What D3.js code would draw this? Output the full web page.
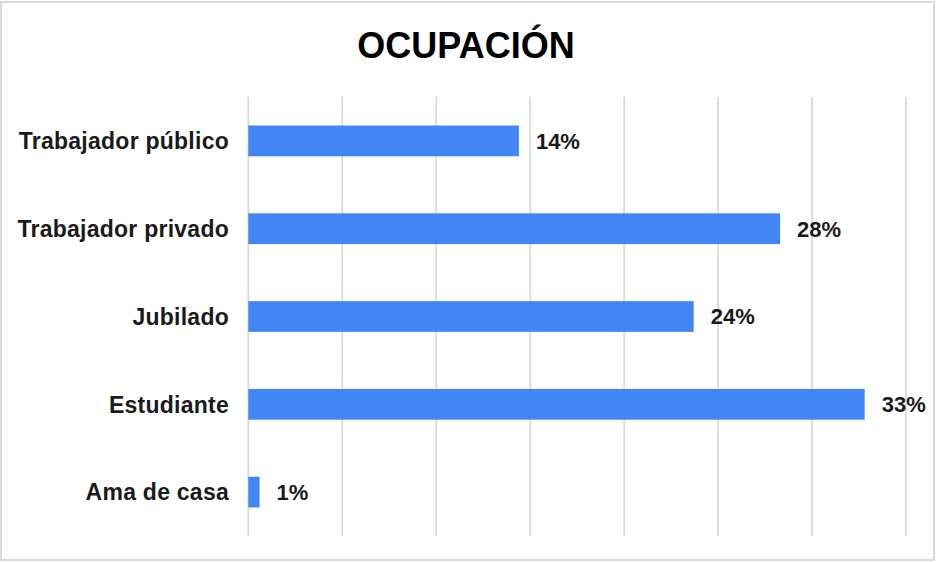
<!DOCTYPE html>
<html>
<head>
<meta charset="utf-8">
<script src="https://cdn.jsdelivr.net/npm/d3@7"></script>
<style>
  body { margin: 0; background: #fff; }
  text { font-family: "Liberation Sans", Arial, sans-serif; font-weight: bold; }
</style>
</head>
<body>
<div id="container"></div>
<script>
// data
var categories = ["Trabajador público", "Trabajador privado", "Jubilado", "Estudiante", "Ama de casa"];
var values = [0.144, 0.283, 0.237, 0.328, 0.006];
var tickValues = [0, 0.05, 0.10, 0.15, 0.20, 0.25, 0.30, 0.35];

var W = 936, H = 562;
var svg = d3.select("#container").append("svg")
	.attr("width", W)
	.attr("height", H)

// frame
svg.append("rect")
	.attr("x", 1).attr("y", 2)
	.attr("width", W - 3).attr("height", H - 4)
	.style("fill", "#fff")
	.style("stroke", "#dadada")
	.style("stroke-width", 2)

svg.append("text")
	.attr("x", 466)
	.attr("y", 58)
	.attr("text-anchor", "middle")
	.style("font-size", "36px")
	.style("fill", "#000")
	.text("OCUPACIÓN")

//define scales
var x = d3.scaleLinear()
	.domain([0, 0.35])
	.range([248.3, 906]);

var y = d3.scaleBand()
	.domain(categories)
	.range([97, 536])
	.paddingInner(0.65)
	.paddingOuter(0.325);

// gridlines
svg.append("g")
	.selectAll("line")
	.data(tickValues).enter()
	.append("line")
	.attr("x1", function(d) { return x(d); })
	.attr("x2", function(d) { return x(d); })
	.attr("y1", 97)
	.attr("y2", 536)
	.style("stroke", "#d6d6d6")
	.style("stroke-width", 1.6)

var data = categories.map(function(c, i) { return { cat: c, val: values[i] }; });
var fmt = d3.format(".0%");

svg.append("g")
	.selectAll("rect")
	.data(data).enter()
	.append("rect")
	.attr("x", x(0))
	.attr("y", function(d) { return y(d.cat); })
	.attr("width", function(d) { return x(d.val) - x(0); })
	.attr("height", y.bandwidth())
	.style("fill", "#4285f4")

// category labels
svg.append("g")
	.selectAll("text")
	.data(data).enter()
	.append("text")
	.attr("x", 229)
	.attr("y", function(d) { return y(d.cat) + y.bandwidth() / 2; })
	.attr("dy", "0.36em")
	.attr("text-anchor", "end")
	.style("font-size", "23px")
	.style("letter-spacing", "0.25px")
	.style("fill", "#1a1a1a")
	.text(function(d) { return d.cat; })

// value labels
svg.append("g")
	.selectAll("text")
	.data(data).enter()
	.append("text")
	.attr("x", function(d) { return x(d.val) + 17; })
	.attr("y", function(d) { return y(d.cat) + y.bandwidth() / 2; })
	.attr("dy", "0.36em")
	.style("font-size", "22px")
	.style("fill", "#1a1a1a")
	.text(function(d) { return fmt(d.val); })
</script>
</body>
</html>
